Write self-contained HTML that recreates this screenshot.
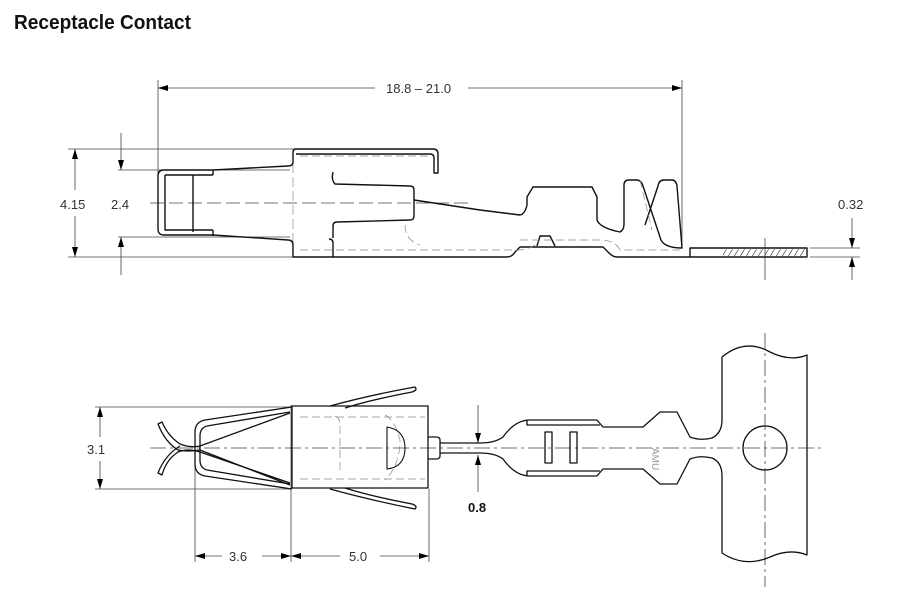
<!DOCTYPE html>
<html><head><meta charset="utf-8"><style>
html,body{margin:0;padding:0;background:#fff;}
svg{display:block}
text{font-family:"Liberation Sans",sans-serif;fill:#333;font-size:13px}
</style></head><body>
<svg width="914" height="592" viewBox="0 0 914 592" xmlns="http://www.w3.org/2000/svg">
<defs>
<marker id="a" viewBox="0 0 10 6" refX="10" refY="3" markerWidth="10" markerHeight="6" orient="auto-start-reverse" markerUnits="userSpaceOnUse"><path d="M0,0L10,3L0,6z" fill="#000"/></marker>
<pattern id="h" width="6" height="10" patternUnits="userSpaceOnUse"><path d="M0,10L6,0" stroke="#555" stroke-width="0.8"/></pattern>
</defs>
<text x="14" y="29" textLength="177" lengthAdjust="spacingAndGlyphs" style="font-weight:bold;font-size:20px;fill:#111">Receptacle Contact</text>

<g stroke="#444" stroke-width="0.8" fill="none">
<line x1="158" y1="80" x2="158" y2="178"/>
<line x1="682" y1="80" x2="682" y2="248"/>
<line x1="158" y1="88" x2="375" y2="88" marker-start="url(#a)"/>
<line x1="468" y1="88" x2="682" y2="88" marker-end="url(#a)"/>
<line x1="68" y1="149" x2="295" y2="149"/>
<line x1="68" y1="257" x2="295" y2="257"/>
<line x1="75" y1="190" x2="75" y2="149" marker-end="url(#a)"/>
<line x1="75" y1="216" x2="75" y2="257" marker-end="url(#a)"/>
<line x1="118" y1="170" x2="290" y2="170"/>
<line x1="118" y1="237" x2="290" y2="237"/>
<line x1="121" y1="133" x2="121" y2="170" marker-end="url(#a)"/>
<line x1="121" y1="275" x2="121" y2="237" marker-end="url(#a)"/>
<line x1="810" y1="248" x2="860" y2="248"/>
<line x1="810" y1="257" x2="860" y2="257"/>
<line x1="852" y1="218" x2="852" y2="248" marker-end="url(#a)"/>
<line x1="852" y1="280" x2="852" y2="257" marker-end="url(#a)"/>
<line x1="765" y1="238" x2="765" y2="280"/>
<line x1="150" y1="203" x2="470" y2="203" stroke-dasharray="14,5"/>
<line x1="293" y1="149" x2="293" y2="257" stroke-dasharray="10,4" stroke="#999"/>
</g>
<text x="386" y="93">18.8 – 21.0</text>
<text x="60" y="209">4.15</text>
<text x="111" y="209">2.4</text>
<text x="838" y="209">0.32</text>

<g stroke="#111" stroke-width="1.4" fill="none" stroke-linejoin="round">
<path d="M433,149 H296 Q293,149 293,153 V162 Q293,166 288,166 L213,170 H164 Q158,170 158,176 V229 Q158,235 164,235 H213 L288,240 Q293,240 293,245 V257 H507 Q512,257 515,252 L520,247 H603 L609,253 Q613,257 617,257 H690 V248 H807 V257 H690"/>
<path d="M433,149 Q438,149 438,154 V173 H434 V158 Q434,154 430,154 H296"/>
<path d="M165,175 H213 M165,175 V230 H213 M193,175 V232 M213,170 V175 M213,230 V236"/>
<path d="M333,257 V243 Q333,239 329,239 M333,172 Q331,180 335,184 L410,186 Q414,186 414,190 V216 Q414,220 410,220 L337,222 Q333,222 333,226 V238"/>
<path d="M414,200 L480,210 L520,215 Q525,214 527,205 V197 L533,187 H592 L597,197 V220 Q600,228 620,232 Q624,230 624,224 V185 Q624,180 629,180 H637 Q641,180 643,186 L660,237 Q662,248 682,248 L677,186 Q676,180 672,180 H664 Q659,180 658,186 L645,225"/>
<path d="M537,246 L540,236 H550 L555,246" />
<rect x="723" y="248" width="84" height="9" fill="url(#h)" stroke="none"/>
</g>
<g stroke="#888" stroke-width="0.7" fill="none" stroke-dasharray="8,4">
<path d="M300,156 H430 M300,250 H520 Q535,248 540,240 M520,240 H600 Q615,240 620,250 H680 M405,225 Q405,240 420,245 M640,180 L652,230"/>
</g>

<g stroke="#444" stroke-width="0.8" fill="none">
<line x1="95" y1="407" x2="292" y2="407"/>
<line x1="95" y1="489" x2="292" y2="489"/>
<line x1="100" y1="437" x2="100" y2="407" marker-end="url(#a)"/>
<line x1="100" y1="461" x2="100" y2="489" marker-end="url(#a)"/>
<line x1="195" y1="460" x2="195" y2="562"/>
<line x1="291" y1="405" x2="291" y2="562"/>
<line x1="429" y1="489" x2="429" y2="562"/>
<line x1="195" y1="556" x2="222" y2="556" marker-start="url(#a)"/>
<line x1="262" y1="556" x2="291" y2="556" marker-end="url(#a)"/>
<line x1="291" y1="556" x2="340" y2="556" marker-start="url(#a)"/>
<line x1="380" y1="556" x2="429" y2="556" marker-end="url(#a)"/>
<line x1="478" y1="405" x2="478" y2="443" marker-end="url(#a)"/>
<line x1="478" y1="492" x2="478" y2="455" marker-end="url(#a)"/>
<line x1="150" y1="448" x2="825" y2="448" stroke-dasharray="16,4,3,4"/>
<line x1="765" y1="333" x2="765" y2="587" stroke-dasharray="16,4,3,4"/>
</g>
<text x="87" y="454">3.1</text>
<text x="229" y="561">3.6</text>
<text x="349" y="561">5.0</text>
<text x="468" y="512" style="font-weight:bold;fill:#111">0.8</text>

<g stroke="#111" stroke-width="1.3" fill="none" stroke-linejoin="round">
<rect x="292" y="406" width="136" height="82"/>
<path d="M428,437 H436 Q440,437 440,440 V443 H480 Q495,443 503,437 Q515,420 530,420 H597 L603,427 H643 L660,412 H677 L690,437 Q700,441 712,438 Q722,433 722,420 V357 Q745,338 770,352 Q790,362 807,355 V555 Q790,548 770,557 Q745,568 722,553 V476 Q722,462 712,458 Q700,455 690,459 L677,484 H660 L643,469 H603 L597,476 H530 Q515,476 503,459 Q495,453 480,453 H440 V456 Q440,459 436,459 H428"/>
<circle cx="765" cy="448" r="22"/>
<rect x="545" y="432" width="7" height="31"/>
<rect x="570" y="432" width="7" height="31"/>
<path d="M527,420 V425 H600 M527,476 V471 H600 M440,443 V453"/>
<path d="M292,407 L205,420 Q195,422 195,432 V464 Q195,474 205,476 L292,489"/>
<path d="M290,412 L207,426 Q200,428 200,436 V460 Q200,468 207,470 L290,484"/>
<path d="M290,413 L200,446 Q190,448 180,444 Q168,436 162,422 L158,424 Q165,442 178,450 Q188,452 200,450 L290,485"/>
<path d="M290,483 L200,452 Q188,448 178,452 Q166,460 162,475 L158,473 Q165,455 180,446"/>
<path d="M330,406 Q370,395 415,387 Q418,390 412,392 Q370,400 345,408"/>
<path d="M330,489 Q370,500 415,509 Q418,506 412,504 Q370,496 345,488"/>
</g>
<g stroke="#888" stroke-width="0.7" fill="none" stroke-dasharray="8,4">
<path d="M300,417 H425 M300,479 H425 M335,416 Q340,418 340,425 V470 M385,415 Q395,420 400,440 Q400,465 385,480"/>
</g>
<path d="M387,427 Q405,430 405,448 Q405,467 387,469 Z" fill="none" stroke="#111" stroke-width="1.1"/>
<text x="652" y="448" transform="rotate(90 652 448)" style="font-size:10px;fill:#999">AMU</text>
</svg>
</body></html>
